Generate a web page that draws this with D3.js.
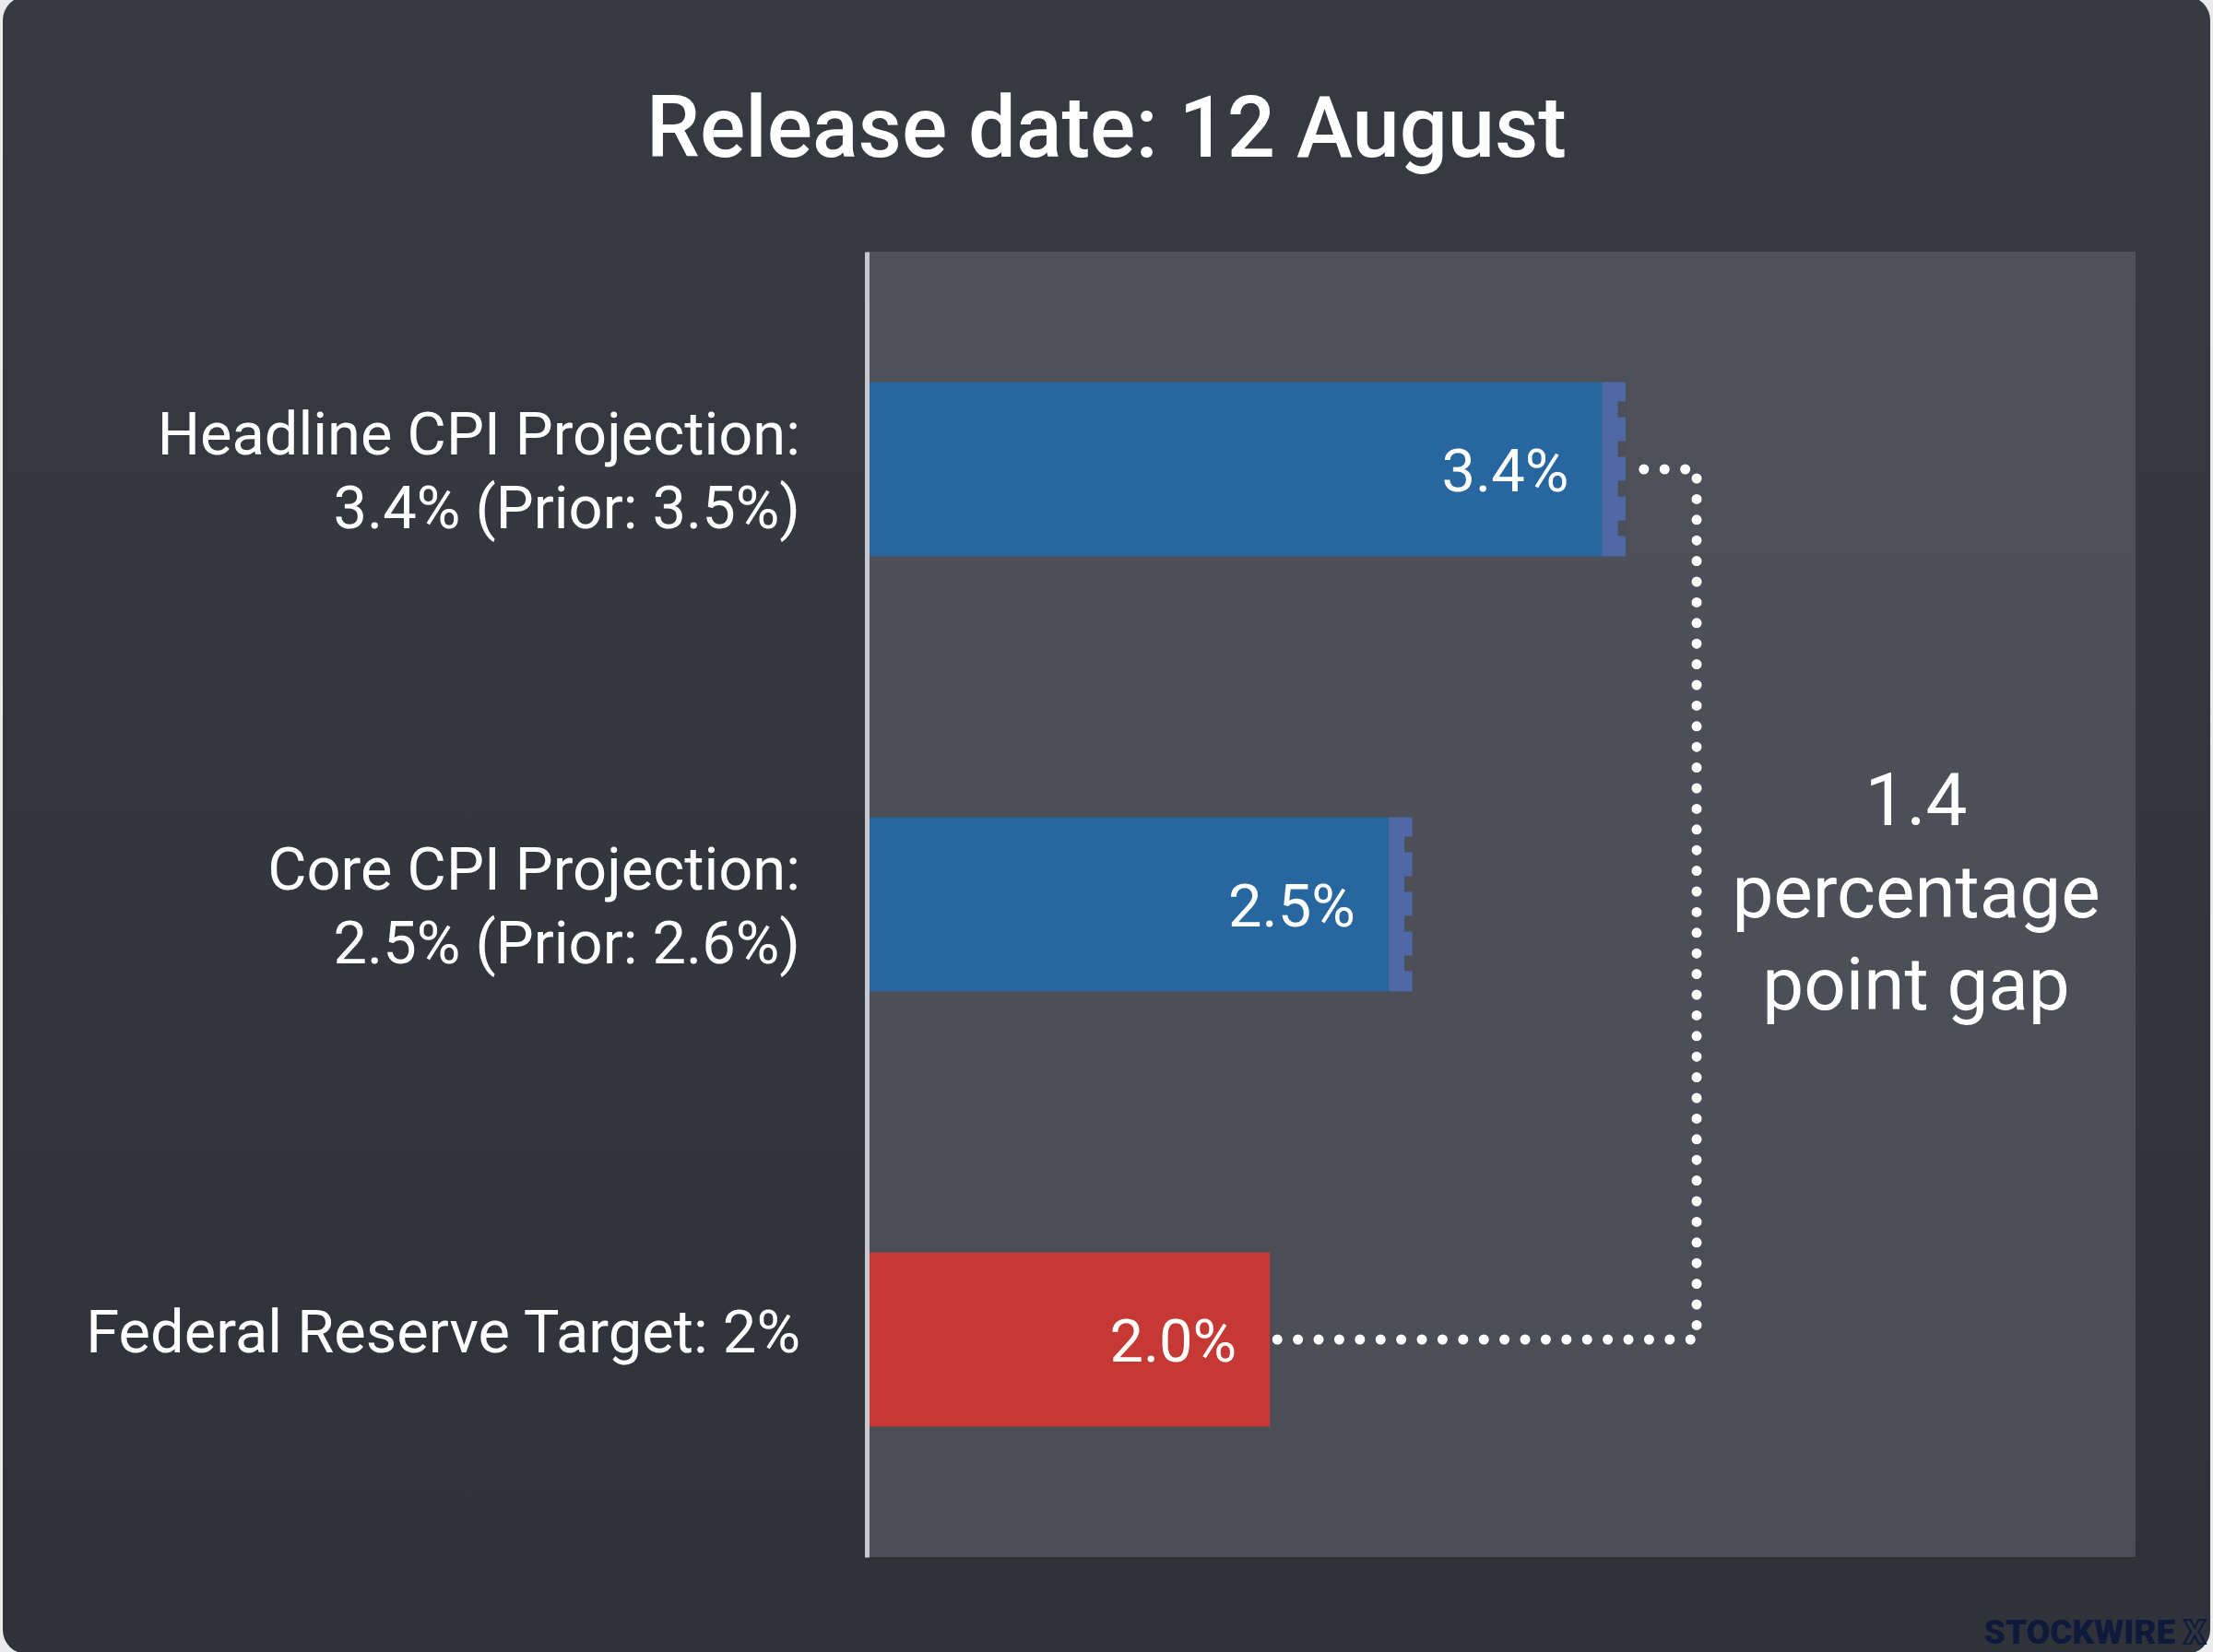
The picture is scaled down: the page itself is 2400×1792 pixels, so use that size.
<!DOCTYPE html>
<html>
<head>
<meta charset="utf-8">
<script src="https://cdn.jsdelivr.net/npm/d3@7"></script>
<style>
  html, body { margin: 0; padding: 0; background: #ebebed; }
  svg { display: block; }
  text { font-family: Roboto, "Noto Sans", sans-serif; }
</style>
</head>
<body>
<div id="chart"></div>
<script>
// data
var title = "Release date: 12 August"
var categories = ["headline", "core", "target"]
var labelLines = [
  ["Headline CPI Projection:", "3.4% (Prior: 3.5%)"],
  ["Core CPI Projection:", "2.5% (Prior: 2.6%)"],
  ["Federal Reserve Target: 2%"]
]
var values = [3.4, 2.5, 2.0]
var priors = [3.5, 2.6, null]
var gapLines = ["1.4", "percentage", "point gap"]

var width = 2400,
    height = 1792,
    plot = {left: 940, right: 2316, top: 273, bottom: 1689}

var barColor = ["#2866a0", "#2866a0", "#c53834"],
    priorColor = "#4f69a6",
    plotBg = "#4c4f57"

var svg = d3.select('#chart')
  .append('svg')
    .attr('width', width)
    .attr('height', height)

var defs = svg.append('defs')
var cardGrad = defs.append('linearGradient')
    .attr('id', 'card').attr('x1', 0).attr('x2', 0).attr('y1', 0).attr('y2', 1)
cardGrad.append('stop').attr('offset', '0%').attr('stop-color', '#373a41')
cardGrad.append('stop').attr('offset', '100%').attr('stop-color', '#2f3239')

var plotGrad = defs.append('linearGradient')
    .attr('id', 'plotbg').attr('x1', 0).attr('x2', 0).attr('y1', 0).attr('y2', 1)
plotGrad.append('stop').attr('offset', '0%').attr('stop-color', '#4e5159')
plotGrad.append('stop').attr('offset', '100%').attr('stop-color', '#4a4d55')

// card
svg.append('rect')
    .attr('x', 3).attr('y', -4)
    .attr('width', 2394).attr('height', 1798)
    .attr('rx', 26)
    .attr('fill', 'url(#card)')

svg.append('text')
    .attr('x', width / 2)
    .attr('y', 170)
    .attr('text-anchor', 'middle')
    .attr('font-size', 92)
    .attr('font-weight', 500)
    .attr('fill', '#ffffff')
    .text(title)

var x = d3.scaleLinear()
    .domain([0.3, 5.65])
    .range([plot.left, plot.right])

var y = d3.scaleBand()
    .domain(categories)
    .range([plot.top, plot.bottom])
    .paddingInner(0.6)
    .paddingOuter(0.3)

svg.append('rect')
    .attr('x', plot.left).attr('y', plot.top)
    .attr('width', plot.right - plot.left)
    .attr('height', plot.bottom - plot.top)
    .attr('fill', 'url(#plotbg)')

var rows = categories.map(function(c, i){
  return {key: c, value: values[i], prior: priors[i], lines: labelLines[i], i: i}
})

// prior strip, drawn under the current value bar
var withPrior = rows.filter(function(d){ return d.prior != null })
svg.selectAll('rect.prior')
    .data(withPrior)
  .enter().append('rect')
    .attr('class', 'prior')
    .attr('x', function(d){ return x(d.value) })
    .attr('y', function(d){ return y(d.key) })
    .attr('width', function(d){ return x(d.prior) - x(d.value) })
    .attr('height', y.bandwidth())
    .attr('fill', priorColor)

// notched right edge of the strip
svg.selectAll('line.notch')
    .data(withPrior)
  .enter().append('line')
    .attr('class', 'notch')
    .attr('x1', function(d){ return x(d.prior) - 4 })
    .attr('x2', function(d){ return x(d.prior) - 4 })
    .attr('y1', function(d){ return y(d.key) })
    .attr('y2', function(d){ return y(d.key) + y.bandwidth() })
    .attr('stroke', plotBg)
    .attr('stroke-width', 9)
    .attr('stroke-dasharray', '0 21 17 5')

svg.selectAll('rect.bar')
    .data(rows)
  .enter().append('rect')
    .attr('class', 'bar')
    .attr('x', x(x.domain()[0]))
    .attr('y', function(d){ return y(d.key) })
    .attr('width', function(d){ return x(d.value) - x(x.domain()[0]) })
    .attr('height', y.bandwidth())
    .attr('fill', function(d){ return barColor[d.i] })

svg.selectAll('text.val')
    .data(rows)
  .enter().append('text')
    .attr('class', 'val')
    .attr('x', function(d){ return x(d.value) - 36 })
    .attr('y', function(d){ return y(d.key) + y.bandwidth() / 2 + 24 })
    .attr('text-anchor', 'end')
    .attr('font-size', 65)
    .attr('fill', '#ffffff')
    .text(function(d){ return d.value.toFixed(1) + '%' })

// axis line on the left of the plot
var axis = svg.append('g')
    .attr('transform', 'translate(' + plot.left + ',0)')
    .call(d3.axisLeft(y).tickSize(0).tickSizeOuter(0).tickFormat(''))
axis.select('.domain')
    .attr('stroke', '#c6c8cd')
    .attr('stroke-width', 5)

// category labels
var labels = svg.selectAll('text.cat')
    .data(rows)
  .enter().append('text')
    .attr('class', 'cat')
    .attr('text-anchor', 'end')
    .attr('font-size', 65)
    .attr('fill', '#ffffff')
labels.selectAll('tspan')
    .data(function(d){
      var mid = y(d.key) + y.bandwidth() / 2
      var first = mid + 14 - (d.lines.length - 1) * 30
      return d.lines.map(function(t, j){ return {t: t, y: first + j * 80} })
    })
  .enter().append('tspan')
    .attr('x', 868)
    .attr('y', function(d){ return d.y })
    .text(function(d){ return d.t })

// dotted connector from the target bar up to the headline bar
var hiRow = rows[0], loRow = rows[2]
var cx = x(d3.max(priors)) + 77
var yHi = y(hiRow.key) + y.bandwidth() / 2,
    yLo = y(loRow.key) + y.bandwidth() / 2
svg.append('path')
    .attr('d', d3.line()([
      [x(loRow.value) + 8, yLo],
      [cx, yLo],
      [cx, yHi],
      [x(hiRow.prior) + 1, yHi]
    ]))
    .attr('fill', 'none')
    .attr('stroke', '#ffffff')
    .attr('stroke-width', 11)
    .attr('stroke-linecap', 'round')
    .attr('stroke-dasharray', '0 22.4')

var gx = (cx + plot.right) / 2
svg.append('text')
    .attr('text-anchor', 'middle')
    .attr('font-size', 80)
    .attr('fill', '#ffffff')
  .selectAll('tspan')
    .data(gapLines)
  .enter().append('tspan')
    .attr('x', gx)
    .attr('y', function(d, j){ return 895 + j * 100 })
    .text(function(d){ return d })

// watermark
var wm = svg.append('text')
    .attr('x', 2392)
    .attr('y', 1783)
    .attr('text-anchor', 'end')
    .attr('font-family', 'Lato, sans-serif')
    .attr('font-weight', 900)
    .attr('font-size', 37)
    .attr('fill', '#0e1a3c')
wm.append('tspan').text('STOCKWIRE ')
wm.append('tspan')
    .attr('fill', 'none')
    .attr('stroke', '#0e1a3c')
    .attr('stroke-width', 2)
    .text('X')
</script>
</body>
</html>
